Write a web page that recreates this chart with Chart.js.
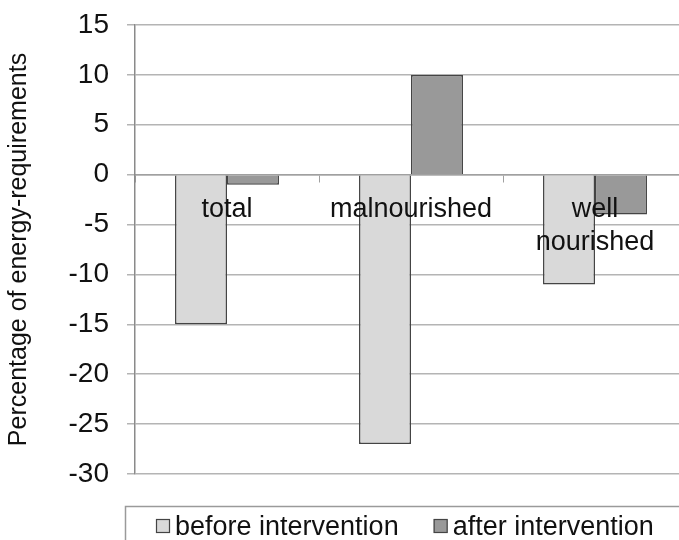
<!DOCTYPE html>
<html>
<head>
<meta charset="utf-8">
<script src="https://cdn.jsdelivr.net/npm/chart.js@4/dist/chart.umd.min.js"></script>
<style>
    html, body { margin: 0; padding: 0; background: #fff; overflow: hidden; }
    #wrap { width: 700px; height: 560px; }
</style>
</head>
<body>
<div id="wrap"><canvas id="chart" width="700" height="560"></canvas></div>
<script>
// Chart data
const categories = ['total', 'malnourished', ['well', 'nourished']];
const beforeValues = [-15, -27, -11];
const afterValues = [-1, 10, -4];
const seriesNames = ['before intervention', 'after intervention'];
const yTicks = { min: -30, max: 15, step: 5 };

const FONT = "'Liberation Sans', Arial, sans-serif";

// Boxed legend below the plot, drawn by hand
const boxedLegend = {
    id: 'boxedLegend',
    afterDraw(chart) {
        const ctx = chart.ctx;
        ctx.save();
        ctx.strokeStyle = '#9a9a9a';
        ctx.lineWidth = 1.5;
        ctx.strokeRect(125.5, 506.5, 700, 100);
        ctx.font = '27px ' + FONT;
        ctx.textBaseline = 'alphabetic';
        let x = 156;
        chart.data.datasets.forEach(ds => {
            ctx.fillStyle = ds.backgroundColor;
            ctx.fillRect(x, 519, 14, 14);
            ctx.strokeStyle = ds.borderColor;
            ctx.lineWidth = 1.2;
            ctx.strokeRect(x + 0.5, 519.5, 13, 13);
            ctx.fillStyle = '#111';
            ctx.fillText(ds.label, x + 19, 535);
            x += 19 + ctx.measureText(ds.label).width + 35;
        });
        ctx.restore();
    }
};

const ctx = document.getElementById('chart').getContext('2d');
const chart = new Chart(ctx, {
    type: 'bar',
    data: {
        labels: categories,
        datasets: [{
            label: seriesNames[0],
            data: beforeValues,
            backgroundColor: '#d9d9d9',
            borderColor: '#444444',
            borderWidth: 1.5
        }, {
            label: seriesNames[1],
            data: afterValues,
            backgroundColor: '#999999',
            borderColor: '#444444',
            borderWidth: 1.5
        }]
    },
    options: {
        responsive: false,
        animation: false,
        devicePixelRatio: 1,
        barPercentage: 1,
        categoryPercentage: 0.565,
        layout: { padding: { top: 25, right: 13, bottom: 86, left: 0 } },
        plugins: {
            legend: { display: false },
            tooltip: { enabled: false }
        },
        scales: {
            x: {
                position: { y: 0 },
                offset: true,
                grid: {
                    offset: true,
                    drawOnChartArea: false,
                    drawTicks: true,
                    tickLength: 7,
                    color: '#a0a0a0',
                    lineWidth: 1
                },
                border: { display: true, color: '#a0a0a0', width: 1.5 },
                ticks: {
                    z: 1,
                    color: '#111',
                    padding: 12,
                    maxRotation: 0,
                    autoSkip: false,
                    font: { family: FONT, size: 27, lineHeight: 1.2 }
                }
            },
            y: {
                min: yTicks.min,
                max: yTicks.max,
                afterFit(scale) {
                    scale.width = 135;
                    scale.paddingTop = 0;
                    scale.paddingBottom = 0;
                },
                ticks: {
                    stepSize: yTicks.step,
                    color: '#111',
                    padding: 18,
                    font: { family: FONT, size: 28 }
                },
                grid: {
                    color: '#b4b4b4',
                    lineWidth: 1.5,
                    tickLength: 8
                },
                border: { display: true, color: '#8a8a8a', width: 1.5 },
                title: {
                    display: true,
                    text: 'Percentage of energy-requirements',
                    color: '#111',
                    padding: { top: 4, bottom: 0 },
                    font: { family: FONT, size: 25 }
                }
            }
        }
    },
    plugins: [boxedLegend]
});
</script>
</body>
</html>
